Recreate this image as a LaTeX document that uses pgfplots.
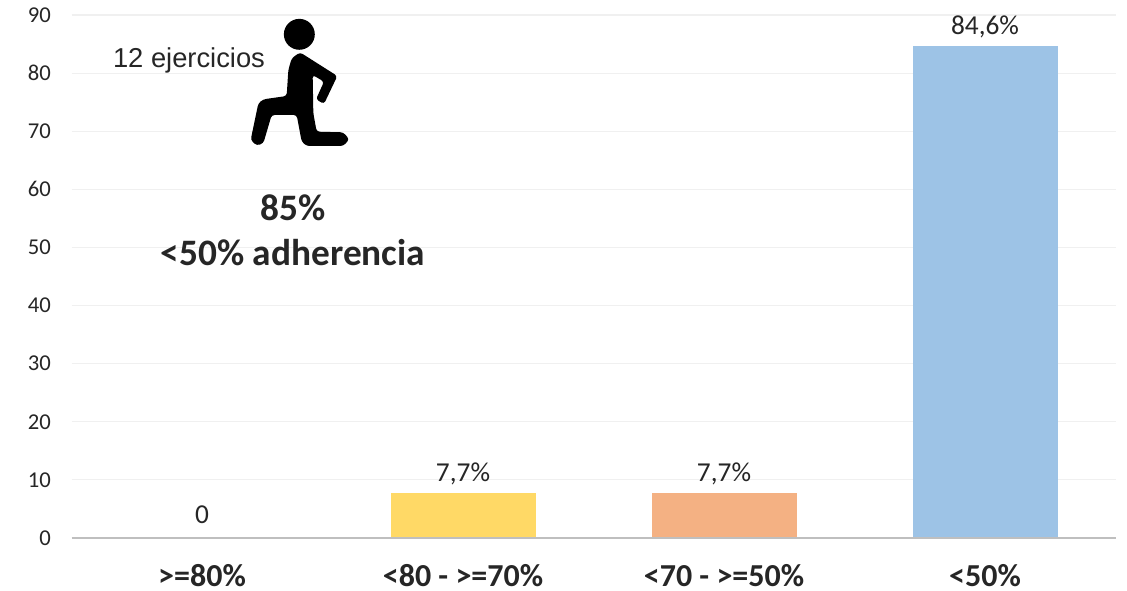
\documentclass[border=0pt]{standalone}
\usepackage{pgfplots}
\pgfplotsset{compat=1.18}
\usepackage{fontspec}
\setmainfont{Carlito}
\newfontfamily\arialf{Liberation Sans}
\definecolor{tk}{HTML}{262626}
\definecolor{gridc}{HTML}{F0F0F0}
\definecolor{axc}{HTML}{BFBFBF}
\definecolor{yel}{HTML}{FFD966}
\definecolor{ora}{HTML}{F4B183}
\definecolor{blu}{HTML}{9DC3E6}
\begin{document}
\begin{tikzpicture}
\useasboundingbox (0pt,0pt) rectangle (845.25pt,443.25pt);
\begin{axis}[
  at={(53.625pt,39.75pt)},
  anchor=south west,
  scale only axis,
  width=783pt, height=392.25pt,
  xmin=-0.5, xmax=3.5, ymin=0, ymax=90,
  axis line style={draw=none},
  xtick={0,1,2,3},
  xticklabels={{>=80\%},{<80 - >=70\%},{<70 - >=50\%},{<50\%}},
  ytick={0,10,...,90},
  tick style={draw=none},
  ymajorgrids,
  grid style={gridc, line width=0.9pt},
  /pgf/number format/assume math mode=true,
  tick label style={text=tk},
  yticklabel style={font=\fontsize{17}{19}\selectfont, xshift=-12pt},
  xticklabel style={font=\fontsize{24}{26}\selectfont\bfseries, inner sep=0pt, yshift=-15pt},
  ybar, bar width=108.75pt, bar shift=0pt,
  clip=false,
  nodes near coords style={font=\fontsize{20.5}{22}\selectfont, text=tk, anchor=south, yshift=3pt},
]
\addplot[draw=none,fill=none,nodes near coords={0},nodes near coords style={yshift=4pt}] coordinates {(0,0)};
\addplot[draw=none,fill=yel,nodes near coords={7,7\%}] coordinates {(1,7.7)};
\addplot[draw=none,fill=ora,nodes near coords={7,7\%}] coordinates {(2,7.7)};
\addplot[draw=none,fill=blu,nodes near coords={84,6\%}] coordinates {(3,84.6)};
\draw[axc,line width=1.6pt] (axis cs:-0.5,0) -- (axis cs:3.5,0);
\end{axis}
\begin{scope}[shift={(0pt,443.25pt)},x=0.75pt,y=-0.75pt]
\node[text=tk,font=\arialf\fontsize{20.5}{22}\selectfont] at (189,60) {12 ejercicios};
\node[text=tk,font=\fontsize{28}{30}\selectfont\bfseries] at (293,208) {85\%};
\node[text=tk,font=\fontsize{28}{30}\selectfont\bfseries] at (293,253) {<50\% adherencia};
\end{scope}
\begin{scope}[shift={(75pt,443.25pt)},x=0.25pt,y=-0.25pt]
\fill[black] (598,103) circle[radius=11.6pt];
\fill[black,rounded corners=2.2pt] (575,175) -- (600,157) -- (712,228) -- (672,312) -- (648,298) -- (672,245) -- (638,225) -- (640,340) -- (650,395) -- (730,397) -- (748,418) -- (730,438) -- (620,438) -- (605,425) -- (590,345) -- (515,345) -- (490,430) -- (470,437) -- (452,420) -- (475,310) -- (490,298) -- (560,288) -- (565,210) -- cycle;
\end{scope}
\end{tikzpicture}
\end{document}
